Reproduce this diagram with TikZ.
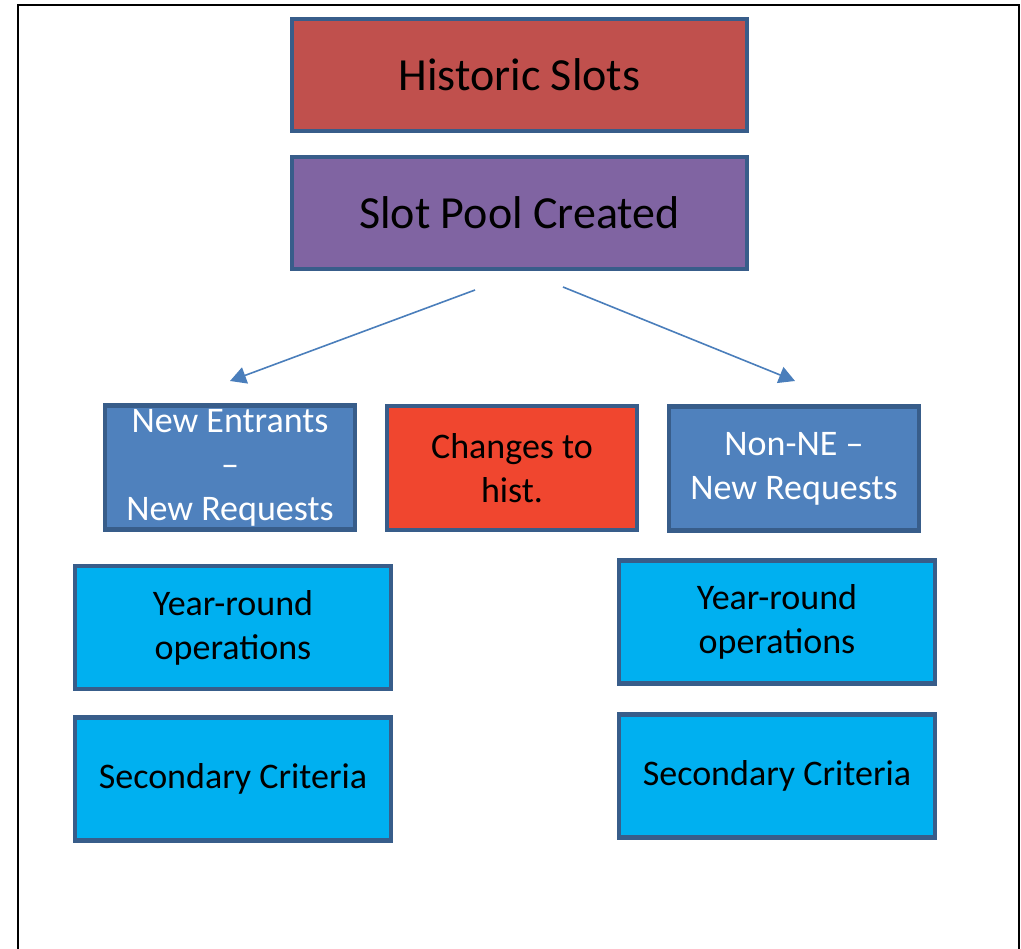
\documentclass[tikz,border=0pt]{standalone}
\usepackage{fontspec}
\setmainfont{Carlito}
\usetikzlibrary{arrows.meta}
\definecolor{bordc}{HTML}{385D8A}
\definecolor{histc}{HTML}{C0504D}
\definecolor{poolc}{HTML}{8064A2}
\definecolor{nec}{HTML}{4F81BD}
\definecolor{chgc}{HTML}{F0462F}
\definecolor{cyanc}{HTML}{00B0F0}
\definecolor{arrc}{HTML}{4A7EBB}
\tikzset{
  box/.style={draw=bordc, line width=4.5pt, rectangle, inner sep=0pt, outer sep=0pt,
    align=center, font=\fontsize{36}{44}\selectfont},
  bigbox/.style={box, minimum width=455pt, minimum height=112pt, font=\fontsize{46}{54}\selectfont},
  midbox/.style={box, minimum width=250pt, minimum height=124pt},
  lowbox/.style={box, fill=cyanc, minimum width=316pt, minimum height=123pt},
  flow/.style={draw=arrc, line width=1.6pt, -{Triangle[length=16pt,width=17pt]}}
}
\begin{document}
\begin{tikzpicture}[x=1pt,y=-1pt]
  \useasboundingbox (0,0) rectangle (1021,949);
  % open frame around the chart
  \draw[line width=2pt] (18,949) -- (18,5) -- (1019,5) -- (1019,949);

  \node[bigbox, fill=histc] (hist) at (519.5,75) {Historic Slots};
  \node[bigbox, fill=poolc] (pool) at (519.5,213) {Slot Pool Created};

  \node[midbox, fill=nec, text=white] (ne) at (230,467.5) {\raisebox{-3pt}{\parbox{250pt}{\centering New Entrants\\–\\New Requests}}};
  \node[midbox, fill=chgc] (chg) at (512,468) {\raisebox{-2pt}{\parbox{250pt}{\centering Changes to\\hist.}}};
  \node[midbox, fill=nec, text=white] (nonne) at (794,468.5) {\raisebox{-2pt}{\parbox{250pt}{\centering Non-NE –\\New Requests}}};

  \node[lowbox] (yrl) at (233,627.5) {\raisebox{-2pt}{\parbox{316pt}{\centering Year-round\\operations}}};
  \node[lowbox] (scl) at (233,779) {Secondary Criteria};
  \node[lowbox] (yrr) at (777,622) {\raisebox{-2pt}{\parbox{316pt}{\centering Year-round\\operations}}};
  \node[lowbox] (scr) at (777,776) {Secondary Criteria};

  % split arrows below the pool
  \coordinate (ls) at (475,290);
  \coordinate (le) at (230,381);
  \coordinate (rs) at (563,287);
  \coordinate (re) at (795,381);
  \draw[flow] (ls) -- (le);
  \draw[flow] (rs) -- (re);
\end{tikzpicture}
\end{document}
